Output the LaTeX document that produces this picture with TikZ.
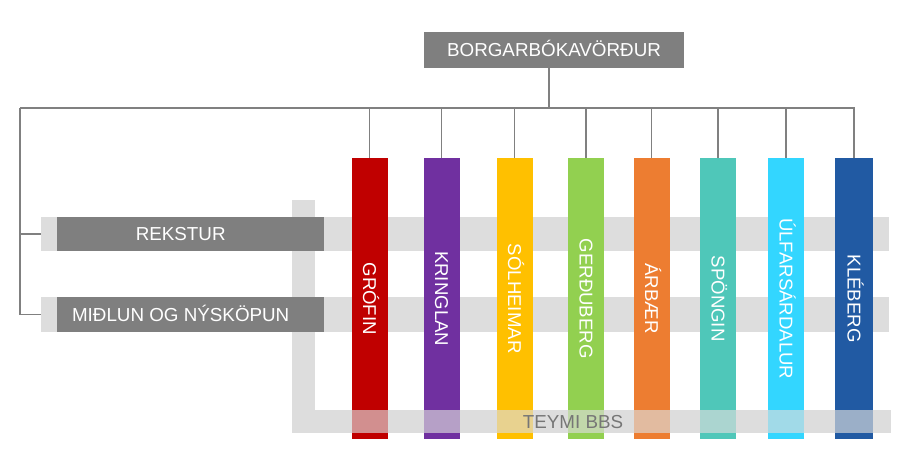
\documentclass[tikz,border=0pt]{standalone}
\usepackage{fontspec}
\setmainfont{Liberation Sans}
\usetikzlibrary{positioning}
\definecolor{boxgray}{HTML}{7F7F7F}
\definecolor{bandgray}{HTML}{DDDDDD}
\definecolor{linegray}{HTML}{808080}
\definecolor{teymitext}{HTML}{767676}
\definecolor{cgrofin}{HTML}{C00000}
\definecolor{ckringlan}{HTML}{7030A0}
\definecolor{csolheimar}{HTML}{FFC000}
\definecolor{cgerduberg}{HTML}{92D050}
\definecolor{carbaer}{HTML}{ED7D31}
\definecolor{cspongin}{HTML}{4FC7B9}
\definecolor{culfars}{HTML}{33D6FF}
\definecolor{ckleberg}{HTML}{215AA3}
\tikzstyle{chief} = [rectangle, minimum width=260pt, minimum height=36pt, inner sep=0pt, text height=13pt, text depth=0pt, fill=boxgray, text=white, font=\fontsize{18.8}{20}\selectfont]
\tikzstyle{band} = [rectangle, minimum width=848pt, minimum height=34pt, inner sep=0pt, anchor=west, fill=bandgray]
\tikzstyle{unit} = [rectangle, minimum width=267pt, minimum height=34pt, inner sep=0pt, text height=13pt, text depth=0pt, anchor=west, fill=boxgray, text=white, font=\fontsize{18.8}{20}\selectfont]
\tikzstyle{branch} = [rectangle, minimum width=281pt, minimum height=36pt, inner sep=0pt, text height=13pt, text depth=0pt, rotate=-90, anchor=west, text=white, font=\fontsize{18.6}{20}\selectfont]
\tikzstyle{line} = [draw=linegray, line width=1.5pt]
\begin{document}
\begin{tikzpicture}[x=1pt, y=-1pt]
\useasboundingbox (0,0) rectangle (900,476);
\node (chief) [chief] at (554,50) {BORGARBÓKAVÖRÐUR};
\coordinate (tl) at (20,108);
\coordinate (tr) at (855,108);
% light gray frame behind the teams
\fill [bandgray] (292,200) rectangle (315,433);
\node (teymi) [band, minimum width=599pt, minimum height=23pt] at (292,421.5) {};
\node (rekband) [band] at (41,234) {};
\node (midband) [band, minimum height=35pt] at (41,314.5) {};
\node (rekstur) [unit] at (57,234) {REKSTUR\hspace*{20pt}};
\node (midlun) [unit, minimum height=35pt] at (57,314.5) {MIÐLUN OG NÝSKÖPUN\hspace*{20pt}};
% libraries
\node (grofin) [branch, fill=cgrofin] at (369.5,158) {GRÓFIN};
\node (kringlan) [branch, fill=ckringlan] at (441.5,158) {KRINGLAN};
\node (solheimar) [branch, fill=csolheimar] at (514.5,158) {SÓLHEIMAR};
\node (gerduberg) [branch, fill=cgerduberg] at (586,158) {GERÐUBERG};
\node (arbaer) [branch, fill=carbaer] at (651.5,158) {ÁRBÆR};
\node (spongin) [branch, fill=cspongin] at (718,158) {SPÖNGIN};
\node (ulfars) [branch, fill=culfars] at (786,158) {ÚLFARSÁRDALUR};
\node (kleberg) [branch, fill=ckleberg, minimum height=38pt] at (854,158) {KLÉBERG};
\fill [bandgray, opacity=0.65] (teymi.north west) rectangle (teymi.south east);
\node (teymilabel) [text=teymitext, inner sep=0pt, text height=13pt, text depth=0pt, font=\fontsize{18.8}{20}\selectfont] at (573,422) {TEYMI BBS};
% connectors
\draw [line] ([xshift=-5pt]chief.south) -- ([xshift=-5pt]chief.south |- tl);
\draw [line] (tl) -- (tr);
\draw [line] (grofin.west |- tl) -- (grofin.west);
\draw [line] (kringlan.west |- tl) -- (kringlan.west);
\draw [line] (solheimar.west |- tl) -- (solheimar.west);
\draw [line] (gerduberg.west |- tl) -- (gerduberg.west);
\draw [line] (arbaer.west |- tl) -- (arbaer.west);
\draw [line] (spongin.west |- tl) -- (spongin.west);
\draw [line] (ulfars.west |- tl) -- (ulfars.west);
\draw [line] (kleberg.west |- tl) -- (kleberg.west);
\draw [line] (tl) |- (rekband.west);
\draw [line] (tl) |- (midband.west);
\end{tikzpicture}
\end{document}
